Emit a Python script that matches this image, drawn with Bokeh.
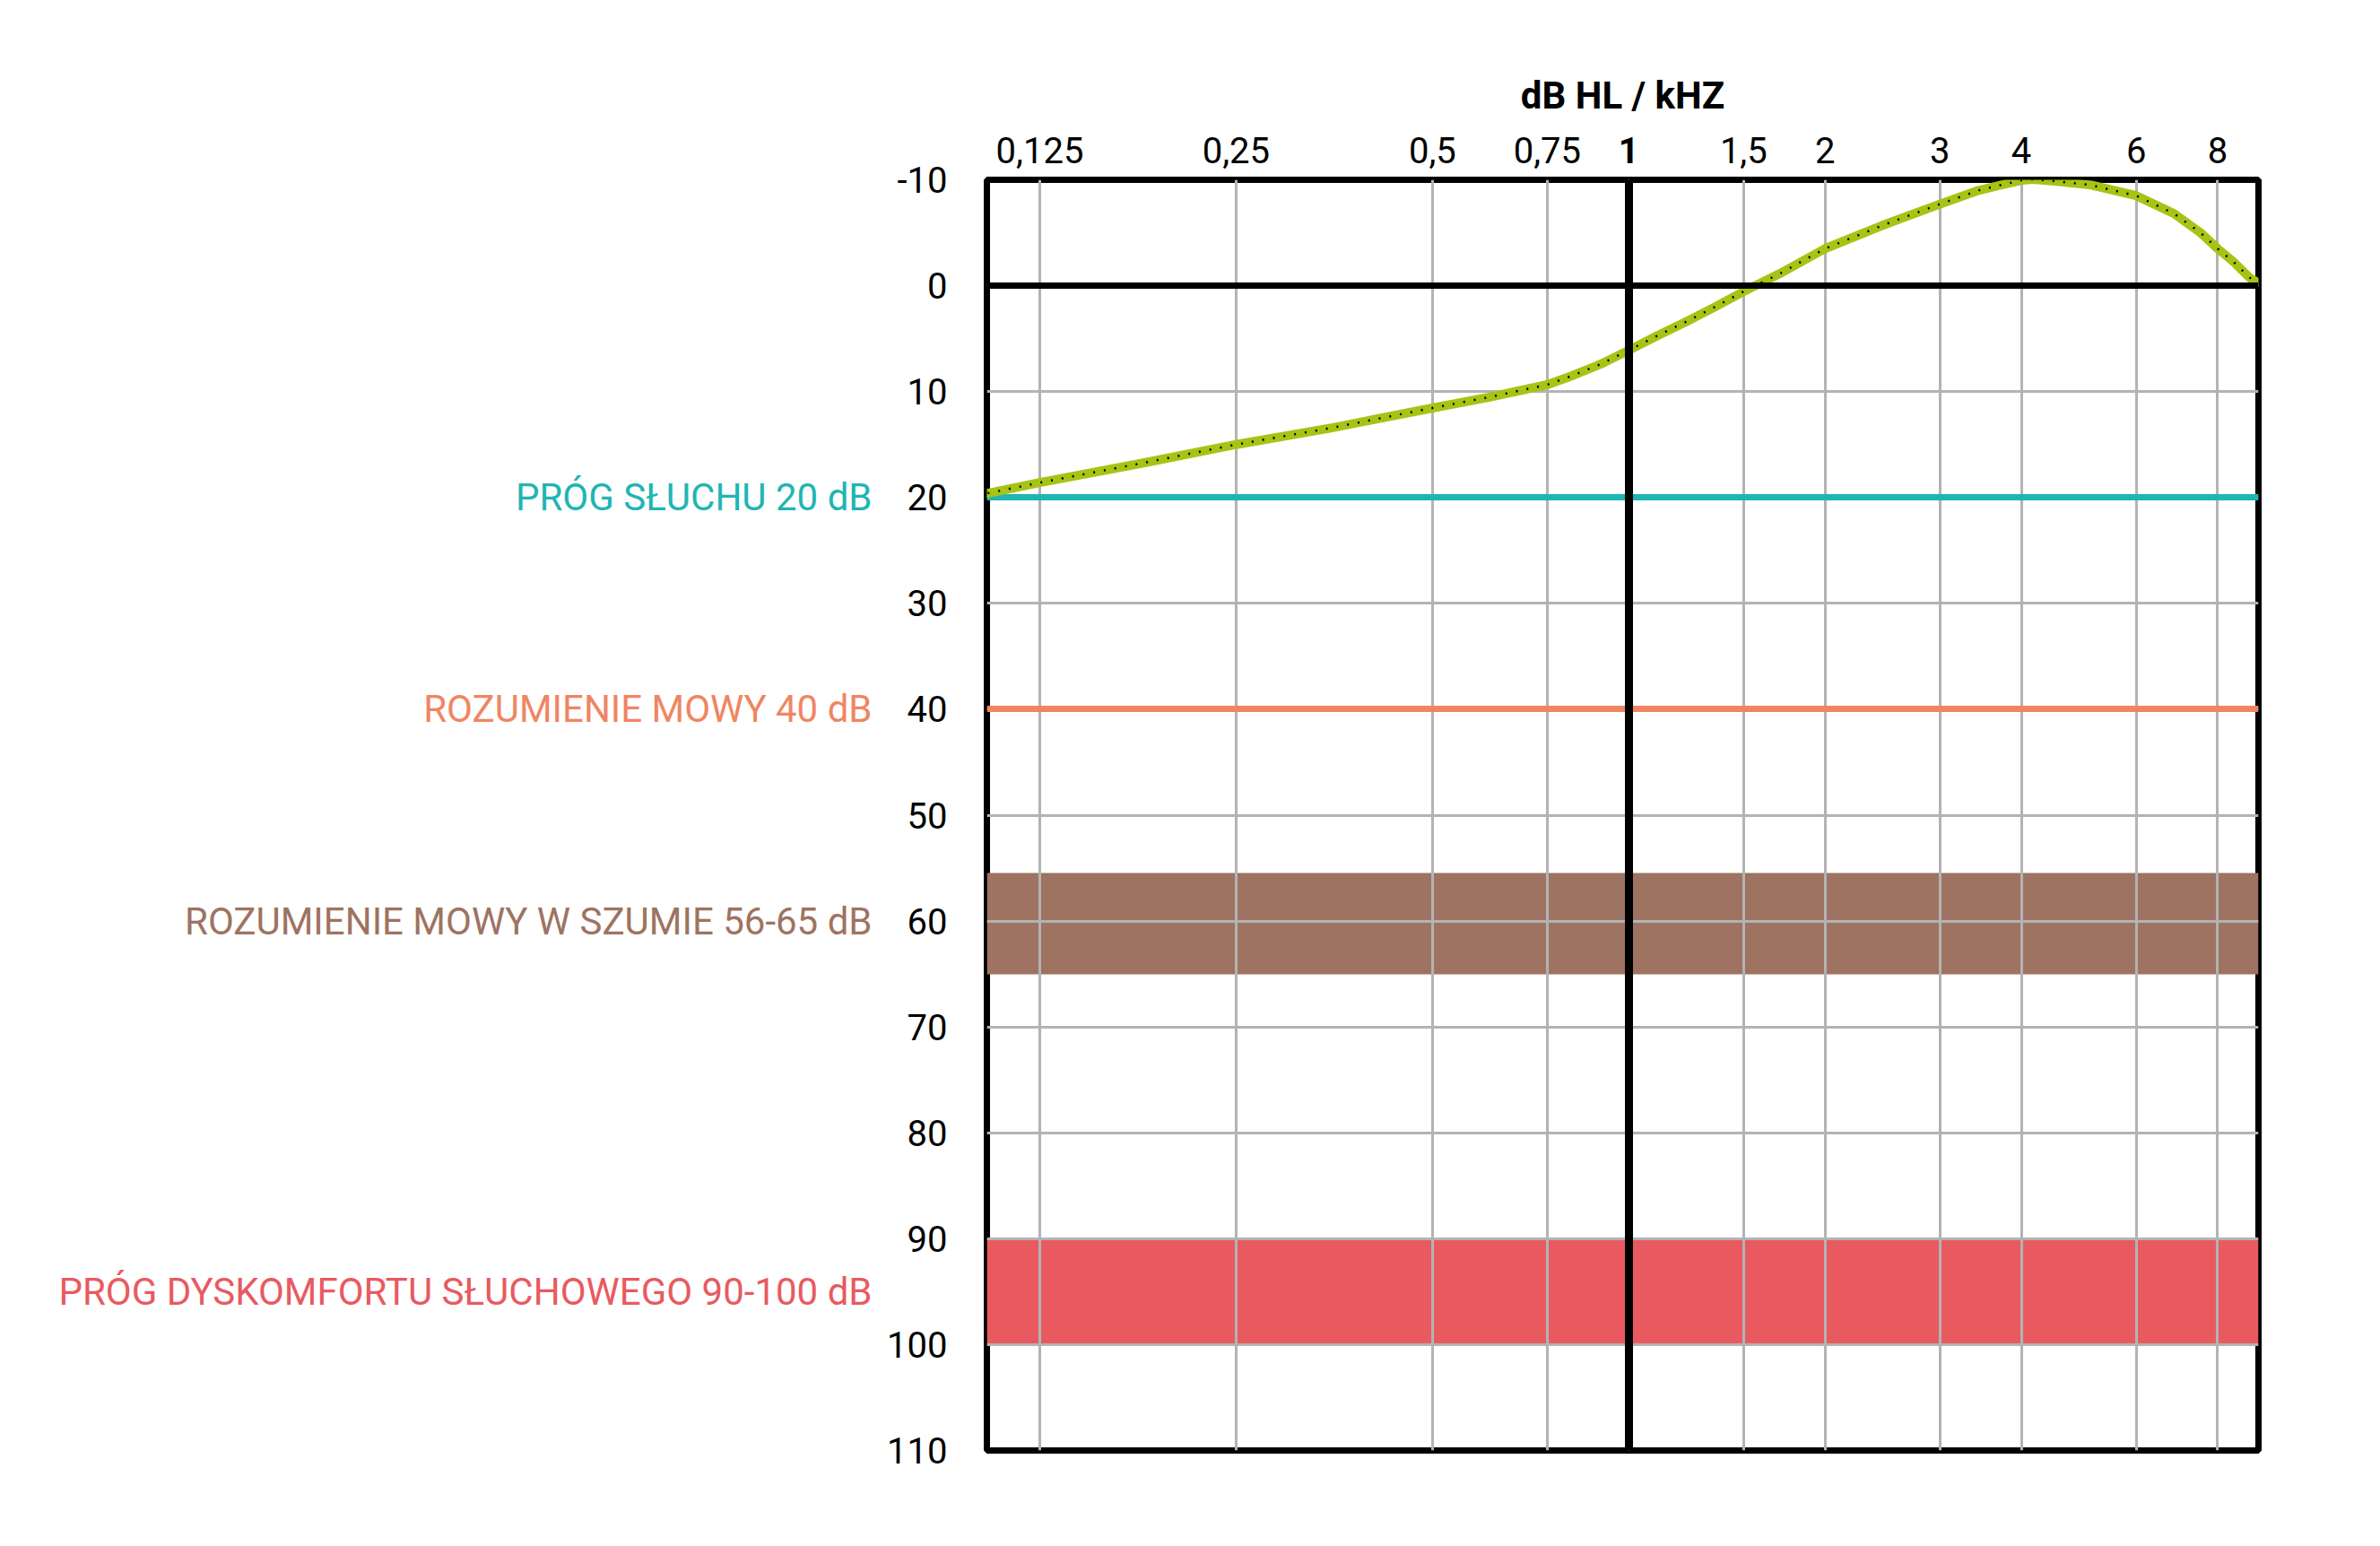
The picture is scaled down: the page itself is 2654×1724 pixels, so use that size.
from bokeh.plotting import figure
from bokeh.models import Range1d, FixedTicker, LogAxis
from bokeh.layouts import row
from bokeh.core.properties import value
from bokeh.embed import file_html
from bokeh.resources import INLINE

# ---- data ----
freq_ticks = [0.125, 0.25, 0.5, 0.75, 1, 1.5, 2, 3, 4, 6, 8]
freq_labels = ["0,125", "0,25", "0,5", "0,75", "1", "1,5", "2", "3", "4", "6", "8"]
bold_tick = 1
db_ticks = [-10, 0, 10, 20, 30, 40, 50, 60, 70, 80, 90, 100, 110]

curve_freq = [0.104, 0.125, 0.178, 0.25, 0.352, 0.5, 0.614, 0.75, 0.819, 0.906, 1.0, 1.10,
              1.225, 1.347, 1.5, 1.70, 2.0, 2.45, 3.0, 3.44, 3.69, 4.0, 4.17, 4.54, 5.12,
              6.0, 6.86, 7.53, 8.0, 8.46, 8.96, 9.2]
curve_db = [19.6, 18.6, 16.8, 15.0, 13.4, 11.55, 10.5, 9.35, 8.5, 7.4, 6.1, 4.8,
            3.4, 2.1, 0.55, -1.1, -3.5, -5.7, -7.7, -9.0, -9.45, -9.95, -10.05, -9.85, -9.5,
            -8.5, -6.8, -5.0, -3.5, -2.25, -0.75, -0.3]

line_db = [20, 40]
line_colors = ["#20b5b3", "#f08562"]
band_low = [55.5, 90]
band_high = [65, 100]
band_colors = ["#9e7361", "#e85a60"]

label_texts = ["PRÓG SŁUCHU 20 dB", "ROZUMIENIE MOWY 40 dB",
               "ROZUMIENIE MOWY W SZUMIE 56-65 dB", "PRÓG DYSKOMFORTU SŁUCHOWEGO 90-100 dB"]
label_db = [20, 40, 60, 95]
label_colors = ["#20b5b3", "#f08562", "#9e7361", "#e85a60"]

x_lo, x_hi = 0.1037, 9.24
FONT = "Roboto"
TOP = 200
FRAME_H = 1417
BOTTOM = 99

yr = Range1d(110, -10)

# ---- left label panel ----
lp = figure(x_range=Range1d(0, 1), y_range=yr, frame_width=972, frame_height=FRAME_H,
            min_border_left=0, min_border_right=0, min_border_top=TOP, min_border_bottom=BOTTOM,
            output_backend="svg", toolbar_location=None)
lp.axis.visible = False
lp.grid.visible = False
lp.outline_line_color = None
lp.background_fill_color = "white"
lp.border_fill_color = "white"
lp.text(x=[lp.x_range.end] * len(label_texts), y=label_db, text=label_texts,
        text_color=label_colors, text_font=value(FONT), text_font_size="42px",
        text_align="right", text_baseline="middle")

# ---- main audiogram ----
p = figure(x_axis_type="log", x_axis_location="above",
           x_range=Range1d(x_lo, x_hi), y_range=yr,
           frame_width=1418, frame_height=FRAME_H,
           min_border_left=128, min_border_top=TOP,
           min_border_right=128, min_border_bottom=BOTTOM,
           output_backend="svg", toolbar_location=None,
           background_fill_color="white", border_fill_color="white")

p.outline_line_color = "black"
p.outline_line_width = 7
p.outline_line_alpha = 1.0

def style_top_axis(ax):
    ax.axis_line_color = None
    ax.major_tick_line_color = None
    ax.minor_tick_line_color = None
    ax.major_tick_out = 0
    ax.major_tick_in = 0
    ax.major_label_text_font = FONT
    ax.major_label_text_font_size = "40px"
    ax.major_label_text_color = "black"

# x axis (top) – regular labels
xa = p.xaxis[0]
xa.ticker = FixedTicker(ticks=freq_ticks)
xa.major_label_overrides = {f: ("" if f == bold_tick else lab) for f, lab in zip(freq_ticks, freq_labels)}
style_top_axis(xa)
xa.major_label_standoff = 19

# second top axis carrying the bold "1" and the title
xa2 = LogAxis(ticker=FixedTicker(ticks=[bold_tick]),
              major_label_overrides={bold_tick: freq_labels[freq_ticks.index(bold_tick)]})
style_top_axis(xa2)
xa2.major_label_text_font_style = "bold"
xa2.major_label_standoff = -32
xa2.axis_label = "dB HL / kHZ"
xa2.axis_label_text_font = FONT
xa2.axis_label_text_font_style = "bold"
xa2.axis_label_text_font_size = "42px"
xa2.axis_label_text_color = "black"
xa2.axis_label_standoff = 19
p.add_layout(xa2, "above")

# y axis (left)
ya = p.yaxis[0]
ya.ticker = FixedTicker(ticks=db_ticks)
ya.major_label_overrides = {v: str(v) for v in db_ticks}
ya.axis_line_color = None
ya.major_tick_line_color = None
ya.minor_tick_line_color = None
ya.major_tick_out = 0
ya.major_tick_in = 0
ya.major_label_text_font = FONT
ya.major_label_text_font_size = "40px"
ya.major_label_text_color = "black"
ya.major_label_standoff = 44

# grids
p.xgrid.ticker = FixedTicker(ticks=freq_ticks)
p.ygrid.ticker = FixedTicker(ticks=db_ticks)
for g in (p.xgrid[0], p.ygrid[0]):
    g.grid_line_color = "#b3b3b3"
    g.grid_line_width = 3
    g.level = "underlay"

# bands below grid
bands = p.hstrip(y0=band_low, y1=band_high, fill_color=band_colors, line_color=None)
bands.level = "image"

# coloured threshold lines
for yv, c in zip(line_db, line_colors):
    p.hspan(y=[yv], line_color=c, line_width=7)

# hearing curve
p.line(curve_freq, curve_db, line_color="#a6c414", line_width=10, line_cap="round", line_join="round")
p.line(curve_freq, curve_db, line_color="black", line_width=2.5, line_dash="2 10")

# reference black lines at 0 dB and 1 kHz
p.hspan(y=[0], line_color="black", line_width=7)
p.vspan(x=[bold_tick], line_color="black", line_width=9)

layout = row(lp, p)
open("out.html", "w").write(file_html(layout, INLINE))
